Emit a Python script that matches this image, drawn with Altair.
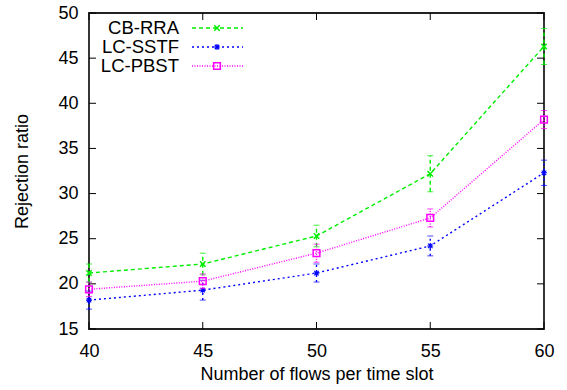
import altair as alt
import pandas as pd

flows = [40, 45, 50, 55, 60]
cb_rra = [21.2, 22.2, 25.3, 32.2, 46.3]
cb_rra_err = [1.0, 1.2, 1.2, 2.0, 2.0]
lc_sstf = [18.2, 19.3, 21.2, 24.2, 32.3]
lc_sstf_err = [1.0, 1.1, 1.0, 1.1, 1.4]
lc_pbst = [19.4, 20.3, 23.4, 27.3, 38.2]
lc_pbst_err = [0.8, 0.8, 1.0, 1.0, 1.0]

series_names = ["CB-RRA", "LC-SSTF", "LC-PBST"]
colors = ["#00ee00", "#0000ff", "#ff00ff"]
dashes = [[4, 3], [2, 3], [1, 1.5]]
x_ticks = [40, 45, 50, 55, 60]
y_ticks = [15, 20, 25, 30, 35, 40, 45, 50]

W, H = 455, 316
FONT = "Liberation Sans"

X_PATH = "M-1,-1L1,1M-1,1L1,-1"
STAR_PATH = "M-1,0L1,0M0,-1L0,1M-0.75,-0.75L0.75,0.75M-0.75,0.75L0.75,-0.75"
shapes = [X_PATH, STAR_PATH, "square"]
sizes = [30, 36, 45]
widths = [1.5, 1.1, 1.5]

values = [cb_rra, lc_sstf, lc_pbst]
errs = [cb_rra_err, lc_sstf_err, lc_pbst_err]

xs = alt.Scale(domain=[40, 60])
ys = alt.Scale(domain=[15, 50])

layers = []
for i, name in enumerate(series_names):
    df = pd.DataFrame({
        "x": flows,
        "y": values[i],
        "lo": [v - e for v, e in zip(values[i], errs[i])],
        "hi": [v + e for v, e in zip(values[i], errs[i])],
    })
    base = alt.Chart(df)
    line = base.mark_line(color=colors[i], strokeWidth=1.4, strokeDash=dashes[i], clip=False).encode(
        x=alt.X("x:Q", scale=xs,
                axis=alt.Axis(values=x_ticks, title="Number of flows per time slot", grid=False,
                              ticks=False, domain=False, labelPadding=13, titlePadding=5,
                              labelFlush=False)),
        y=alt.Y("y:Q", scale=ys,
                axis=alt.Axis(values=y_ticks, title="Rejection ratio", grid=False,
                              ticks=False, domain=False, labelPadding=11, titlePadding=26,
                              labelFlush=False)),
    )
    err = base.mark_rule(color=colors[i], strokeWidth=1.4, strokeDash=dashes[i], clip=False).encode(
        x="x:Q", y="lo:Q", y2="hi:Q")
    cap_hi = base.mark_tick(color=colors[i], orient="horizontal", size=6, thickness=1, clip=False).encode(
        x="x:Q", y="hi:Q")
    cap_lo = base.mark_tick(color=colors[i], orient="horizontal", size=6, thickness=1, clip=False).encode(
        x="x:Q", y="lo:Q")
    pts = base.mark_point(color=colors[i], shape=shapes[i], filled=False, size=sizes[i],
                          strokeWidth=widths[i], opacity=1, clip=False).encode(x="x:Q", y="y:Q")
    layers += [line, err, cap_hi, cap_lo, pts]

# inward ticks (mirrored)
ytdf = pd.DataFrame({"t": y_ticks})
xtdf = pd.DataFrame({"t": x_ticks})
tick_style = dict(color="black", strokeWidth=1)
layers.append(alt.Chart(ytdf).mark_rule(**tick_style).encode(y=alt.Y("t:Q", scale=ys), x=alt.value(0), x2=alt.value(7)))
layers.append(alt.Chart(ytdf).mark_rule(**tick_style).encode(y=alt.Y("t:Q", scale=ys), x=alt.value(W), x2=alt.value(W - 7)))
layers.append(alt.Chart(xtdf).mark_rule(**tick_style).encode(x=alt.X("t:Q", scale=xs), y=alt.value(H), y2=alt.value(H - 7)))
layers.append(alt.Chart(xtdf).mark_rule(**tick_style).encode(x=alt.X("t:Q", scale=xs), y=alt.value(0), y2=alt.value(7)))

# manual legend
leg_rows = [15, 34, 53]
for i, name in enumerate(series_names):
    ldf = pd.DataFrame({"label": [name]})
    lb = alt.Chart(ldf)
    layers.append(lb.mark_text(align="right", baseline="middle", font=FONT, fontSize=18.5, color="black").encode(
        text="label:N", x=alt.value(90), y=alt.value(leg_rows[i])))
    layers.append(lb.mark_rule(color=colors[i], strokeWidth=1.4, strokeDash=dashes[i]).encode(
        x=alt.value(103), x2=alt.value(154), y=alt.value(leg_rows[i])))
    layers.append(lb.mark_point(color=colors[i], shape=shapes[i], filled=False, size=sizes[i],
                                strokeWidth=widths[i], opacity=1).encode(
        x=alt.value(128), y=alt.value(leg_rows[i])))

chart = alt.layer(*layers).properties(
    width=W, height=H,
    background="white",
    autosize=alt.AutoSizeParams(type="none"),
    padding={"left": 89, "top": 13, "right": 23, "bottom": 61},
).configure_view(stroke="#222222", strokeWidth=1.8).configure_axis(
    labelFont=FONT, titleFont=FONT, labelFontSize=18, titleFontSize=18,
    labelColor="black", titleColor="black", titleFontWeight="normal",
)

chart.save("out.html", embed_options={"renderer": "svg", "actions": False})
